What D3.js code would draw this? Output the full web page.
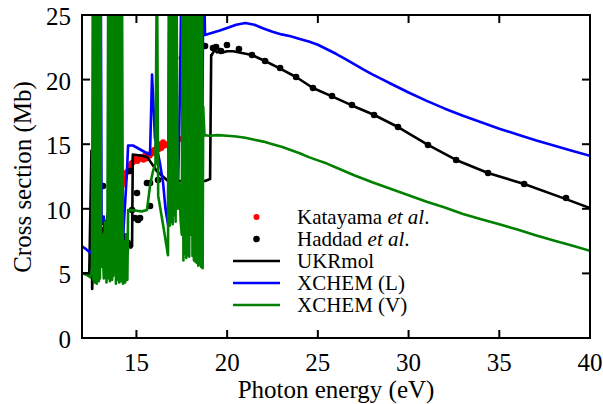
<!DOCTYPE html>
<html><head><meta charset="utf-8">
<script src="https://cdn.jsdelivr.net/npm/d3@7"></script>
</head><body style="margin:0;background:#fff">
<div id="wrap" style="position:relative;width:603px;height:404px;overflow:hidden"></div>
<script>
// ---- data ----
const xTicks = [15, 20, 25, 30, 35, 40];
const yTicks = [0, 5, 10, 15, 20, 25];

const katE = [13.27,13.35,13.43,13.5,13.54,13.6,13.65,13.7,13.76,13.82,13.87,13.95,14.04,14.12,14.2,14.28,14.37,14.45,14.54,14.6,14.65,14.72,14.81,14.9,14.98,15.06,15.14,15.22,15.31,15.39,15.47,15.55,15.64,15.72,15.8,15.88,15.97,16.05,16.13,16.22,16.3,16.38,16.47,16.55,16.63,16.8,17.46];
const katV = [8.5,8.3,8.8,9.3,9.1,9.8,9.6,10.4,10.2,10.9,10.6,11.0,11.2,11.6,11.8,12.1,12.4,12.8,12.9,13.2,13.3,13.5,13.6,13.9,13.8,13.7,13.85,14.0,13.9,13.8,14.1,13.9,14.2,14.1,14.25,14.4,14.55,14.3,14.8,14.6,15.0,14.7,15.15,14.9,15.0,14.85,15.4];

const hadE = [12.55,12.61,13.16,13.27,13.38,13.82,14.65,14.76,14.92,15.03,15.09,15.2,15.58,15.75,15.75,16.19,17.51,17.57,17.57,17.51,17.95,18.78,19.22,19.39,19.66,19.99,20.65,21.37,22.09,22.92,23.8,24.73,25.78,26.88,28.1,29.42,31.07,32.62,34.38,36.37,38.68];
const hadV = [5.65,7.1,11.76,8.9,8.36,11.45,12.93,9.91,9.29,11.22,9.13,9.29,12.0,12.0,10.22,12.23,21.67,20.12,19.5,18.58,20.74,22.6,22.45,22.52,22.21,22.68,22.37,21.9,21.44,20.9,20.2,19.35,18.73,18.03,17.26,16.33,14.94,13.78,12.77,11.92,10.84];

const ukrE = [12.0,12.4,12.52,12.56,12.62,12.7,12.8,12.9,13.0,13.1,13.2,13.3,13.4,13.5,13.6,13.7,13.8,13.9,14.0,14.1,14.2,14.3,14.4,14.5,14.6,14.7,14.76,14.8,15.3,15.6,16.13,16.74,18.78,19.06,19.12,19.15,19.3,19.45,19.6,19.75,20.0,20.33,21.37,22.09,22.92,23.8,24.73,25.78,26.88,28.05,29.42,31.07,32.62,34.38,36.37,38.68,40.0];
const ukrV = [5.0,5.0,14.5,3.8,6.0,8.0,5.0,9.0,6.0,8.5,5.5,7.0,9.5,6.0,8.0,5.5,9.0,6.5,8.5,6.0,9.5,7.5,8.0,6.5,7.5,7.0,7.1,14.2,14.1,14.0,12.9,12.15,12.15,12.3,21.9,21.9,22.3,22.1,22.35,22.1,22.2,22.2,21.9,21.44,20.85,20.2,19.35,18.7,18.0,17.3,16.33,14.94,13.78,12.77,11.92,10.75,10.05];

const xlE = [12.0,12.2,12.45,12.55,12.65,12.8,12.88,12.98,13.03,13.08,13.2,13.3,13.4,13.5,13.6,13.75,13.87,13.93,14.0,14.09,14.15,14.26,14.48,14.54,14.81,15.58,15.75,15.86,16.02,16.13,16.3,16.47,16.6,16.74,16.82,16.9,17.0,17.1,17.18,17.3,17.4,17.5,17.56,17.65,17.8,17.92,18.0,18.1,18.3,18.5,18.6,18.7,18.78,19.0,19.6,20.0,20.5,21.0,21.5,22.0,22.5,23.0,23.5,24.0,24.5,25.0,25.5,26.0,26.5,27.0,27.5,28.0,28.5,29.0,29.5,30.0,31.0,32.0,33.0,34.0,35.0,36.0,37.0,38.0,39.0,40.0];
const xlV = [7.1,6.9,6.6,6.8,7.5,30,7.5,8.5,30,9.0,9.4,7.0,7.5,8.0,7.0,9.0,30,9.5,8.0,30,10.0,7.7,12.9,14.9,14.9,14.3,14.2,20.4,15.5,14.7,13.5,12.0,10.0,8.8,30,9.5,11.0,30,10.0,12.0,19.2,30,10.0,12.0,11.0,30,10.0,12.0,11.0,10.0,10.0,30,23.45,23.55,23.8,24.0,24.25,24.38,24.25,23.95,23.7,23.5,23.35,23.15,22.95,22.7,22.35,22.0,21.6,21.2,20.8,20.4,20.05,19.7,19.35,19.0,18.35,17.75,17.2,16.7,16.2,15.75,15.3,14.9,14.5,14.1];

const xvE = [12.0,12.25,12.45,12.55,
  12.6,12.63,12.66,12.69,12.72,12.75,12.78,12.81,12.84,12.87,12.9,12.93,12.96,12.99,13.02,13.05,
  13.12,13.2,13.28,13.35,13.4,
  13.45,13.48,13.51,13.54,13.57,13.6,13.63,13.66,13.69,13.72,13.77,
  13.84,13.87,13.9,13.93,13.96,13.99,14.02,14.05,14.08,14.11,14.14,14.17,14.2,
  14.26,14.32,14.38,14.44,14.5,
  14.54,14.7,15.0,15.3,15.58,15.75,15.91,16.05,16.13,16.2,16.47,16.74,
  16.8,16.84,16.88,16.92,16.96,17.0,17.04,17.08,17.12,17.16,17.2,
  17.28,17.36,17.44,17.5,
  17.55,17.59,17.63,17.67,17.71,17.75,17.79,17.83,17.87,17.91,17.95,
  18.0,
  18.05,18.09,18.13,18.17,18.21,18.25,18.29,18.33,18.37,18.41,18.45,18.49,18.53,18.57,18.61,18.65,
  18.68,18.75,19.0,19.5,20.0,20.5,21.0,21.5,22.0,22.5,23.0,23.5,24.0,24.5,25.0,25.5,26.0,27.0,28.0,29.0,30.0,31.0,32.0,33.0,34.0,35.0,36.0,37.0,38.0,39.0,40.0];
const xvV = [5.0,4.9,4.7,5.3,
  30,4.5,30,4.3,30,4.8,30,4.2,30,5.0,30,4.4,30,4.6,30,5.5,
  8.0,4.6,9.0,4.3,7.0,
  30,4.6,30,4.4,30,4.9,30,4.5,30,4.8,7.0,
  30,4.2,30,4.6,30,4.5,30,4.3,30,4.7,30,4.4,30,
  4.2,7.5,4.3,8.0,4.5,
  9.9,9.9,9.85,9.8,9.9,11.8,12.9,13.5,30,11.0,8.75,6.4,
  30,8.7,30,9.0,30,8.8,30,9.5,30,9.0,30,
  10.0,12.0,9.0,8.0,
  30,6.0,30,6.5,30,6.2,30,6.4,30,6.3,30,
  8.0,
  30,6.35,30,6.0,30,5.9,30,5.8,30,5.6,30,5.7,30,5.5,30,5.4,
  17.9,15.7,15.65,15.7,15.65,15.6,15.5,15.35,15.2,15.0,14.8,14.55,14.3,14.0,13.75,13.5,13.2,12.6,12.05,11.55,11.05,10.55,10.1,9.6,9.2,8.8,8.4,7.95,7.55,7.15,6.75];

const legendLabels = [["Katayama ", "et al", "."], ["Haddad ", "et al", "."], ["UKRmol"], ["XCHEM (L)"], ["XCHEM (V)"]];

// ---- chart ----
const W = 603, H = 404;
const m = {l: 82, r: 13, t: 15, b: 66};
const wrap = d3.select("#wrap");
const svg = wrap.append("svg").attr("width", W).attr("height", H)
  .style("position", "absolute").style("left", "0").style("top", "0");
const x = d3.scaleLinear().domain([12, 40]).range([m.l, W - m.r]);
const y = d3.scaleLinear().domain([0, 25]).range([H - m.b, m.t]);

svg.append("clipPath").attr("id", "clip").append("rect")
  .attr("x", m.l).attr("y", m.t).attr("width", W - m.r - m.l).attr("height", H - m.b - m.t);

const g = svg.append("g").attr("clip-path", "url(#clip)");
const line = d3.line().x(d => x(d[0])).y(d => y(d[1]));
const zip = (a, b) => a.map((v, i) => [v, b[i]]);

g.selectAll("circle.kat").data(zip(katE, katV)).join("circle")
  .attr("cx", d => x(d[0])).attr("cy", d => y(d[1])).attr("r", 3).attr("fill", "#ff0000");
g.selectAll("circle.had").data(zip(hadE, hadV)).join("circle")
  .attr("cx", d => x(d[0])).attr("cy", d => y(d[1])).attr("r", 3.3).attr("fill", "#000");

const series = [
  {e: ukrE, v: ukrV, c: "#000000"},
  {e: xlE, v: xlV, c: "#0000ff"},
  {e: xvE, v: xvV, c: "#008000"}
];
series.forEach(s => {
  g.append("path").datum(zip(s.e, s.v)).attr("d", line)
    .attr("fill", "none").attr("stroke", s.c).attr("stroke-width", 2.6).attr("stroke-linejoin", "round");
});

// axes (inward ticks, mirrored)
const tl = 8;
const ax = svg.append("g").attr("stroke", "#000").attr("stroke-width", 2);
xTicks.forEach(t => {
  ax.append("line").attr("x1", x(t)).attr("x2", x(t)).attr("y1", y(0)).attr("y2", y(0) - tl);
  ax.append("line").attr("x1", x(t)).attr("x2", x(t)).attr("y1", y(25)).attr("y2", y(25) + tl);
});
yTicks.forEach(t => {
  ax.append("line").attr("x1", x(12)).attr("x2", x(12) + tl).attr("y1", y(t)).attr("y2", y(t));
  ax.append("line").attr("x1", x(40)).attr("x2", x(40) - tl).attr("y1", y(t)).attr("y2", y(t));
});
ax.append("rect").attr("x", m.l).attr("y", m.t).attr("width", W - m.r - m.l).attr("height", H - m.b - m.t)
  .attr("fill", "none");

// legend marks
const lx1 = 233, lx2 = 280, ltx = 297, ly0 = 217, ldy = 22;
legendLabels.forEach((lab, i) => {
  const yy = ly0 + i * ldy;
  if (i === 0) svg.append("circle").attr("cx", (lx1 + lx2) / 2).attr("cy", yy).attr("r", 3).attr("fill", "#ff0000");
  else if (i === 1) svg.append("circle").attr("cx", (lx1 + lx2) / 2).attr("cy", yy).attr("r", 3.3).attr("fill", "#000");
  else svg.append("line").attr("x1", lx1).attr("x2", lx2).attr("y1", yy).attr("y2", yy)
    .attr("stroke", series[i - 2].c).attr("stroke-width", 2.6);
});

// texts as HTML (serif)
function label(px, py, size, tf) {
  return wrap.append("div")
    .style("position", "absolute").style("left", px + "px").style("top", py + "px")
    .style("font-family", "'Liberation Serif', 'Times New Roman', serif")
    .style("font-size", size + "px").style("line-height", "1").style("white-space", "nowrap")
    .style("color", "#000").style("transform", tf);
}
xTicks.forEach(t => label(x(t), y(0) + 24, 25, "translate(-50%,-50%)").text(t));
yTicks.forEach(t => label(m.l - 11, y(t) + 1, 25, "translate(-100%,-50%)").text(t));
label(x(26), 389, 25, "translate(-50%,-50%)").text("Photon energy (eV)");
label(22, (y(0) + y(25)) / 2, 25, "translate(-50%,-50%) rotate(-90deg)").text("Cross section (Mb)");
legendLabels.forEach((lab, i) => {
  const d = label(ltx, ly0 + i * ldy, 21, "translate(0,-50%)");
  lab.forEach((part, k) => d.append("span").style("font-style", k === 1 ? "italic" : "normal").text(part));
});
</script>
</body></html>
